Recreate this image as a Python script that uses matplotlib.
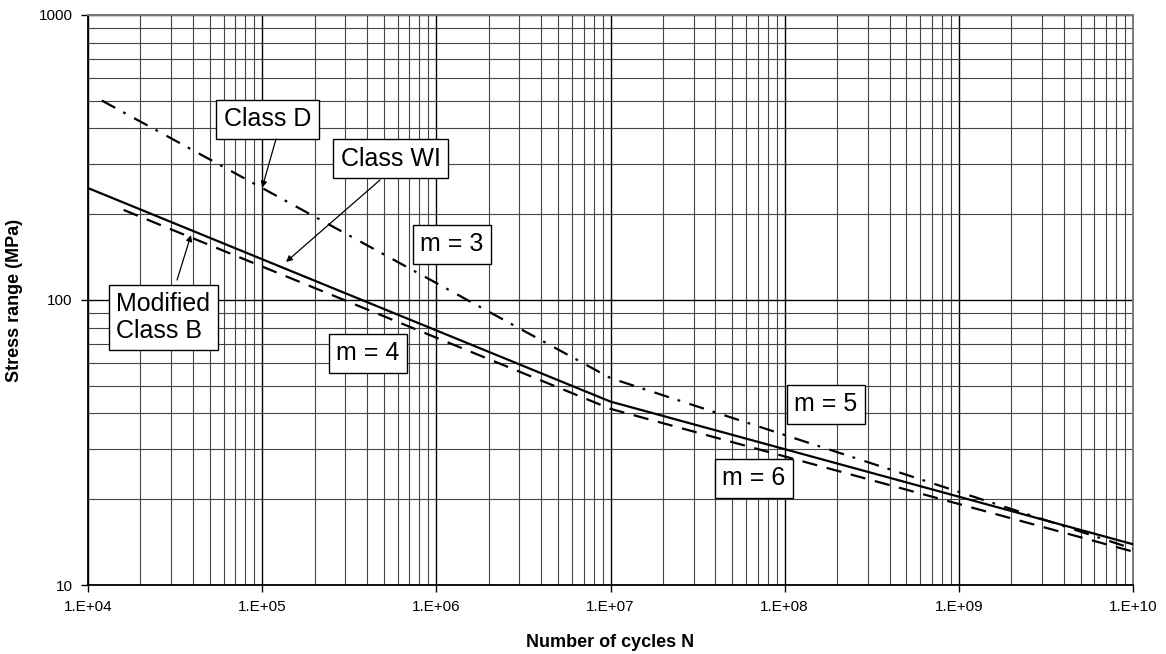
import math
import matplotlib
matplotlib.use("Agg")
import matplotlib.pyplot as plt
from matplotlib.ticker import LogLocator, FixedLocator, FuncFormatter, NullFormatter

plt.rcParams['font.family'] = ['Liberation Sans', 'DejaVu Sans']
plt.rcParams['lines.scale_dashes'] = False

# S-N curves: knee points (cycles, stress range in MPa)
class_d_n = [1.2e4, 1e7, 1e10]
class_d_s = [501, 53.2, 13.4]

class_wi_n = [1e4, 1e7, 1e10]
class_wi_s = [247, 44, 13.9]

mod_b_n = [1.6e4, 1e7, 1e10]
mod_b_s = [207, 41.5, 13.1]

x_major = [1e4, 1e5, 1e6, 1e7, 1e8, 1e9, 1e10]
y_major = [10, 100, 1000]

fig = plt.figure(figsize=(11.66, 6.54), dpi=100)
ax = fig.add_axes([0.0755, 0.1055, 0.8962, 0.8716])
ax.set_xscale('log')
ax.set_yscale('log')

ax.plot(class_d_n, class_d_s, color='black', lw=1.6, dashes=(11, 6.5, 2, 7),
        dash_capstyle='butt', zorder=3)
ax.plot(class_wi_n, class_wi_s, color='black', lw=1.6, zorder=3)
ax.plot(mod_b_n, mod_b_s, color='black', lw=1.6, dashes=(11, 7),
        dash_capstyle='butt', zorder=3)

ax.set_xlim(1e4, 1e10)
ax.set_ylim(10, 1000)

ax.xaxis.set_major_locator(FixedLocator(x_major))
ax.yaxis.set_major_locator(FixedLocator(y_major))
ax.xaxis.set_minor_locator(LogLocator(base=10, subs=range(2, 10), numticks=20))
ax.yaxis.set_minor_locator(LogLocator(base=10, subs=range(2, 10), numticks=20))
ax.xaxis.set_major_formatter(FuncFormatter(lambda v, p: '1.E+%02d' % round(math.log10(v))))
ax.yaxis.set_major_formatter(FuncFormatter(lambda v, p: '%d' % v))
ax.xaxis.set_minor_formatter(NullFormatter())
ax.yaxis.set_minor_formatter(NullFormatter())

ax.tick_params(which='major', direction='out', length=5, width=1, labelsize=11, color='black')
ax.tick_params(axis='x', which='major', pad=6)
ax.tick_params(axis='y', which='major', pad=6)
ax.tick_params(which='minor', length=0)

ax.grid(which='major', color='black', lw=1.0, zorder=1)
ax.grid(which='minor', color='#444444', lw=0.8, zorder=1)
ax.set_axisbelow(True)

for side in ['left', 'bottom']:
    ax.spines[side].set_color('black')
    ax.spines[side].set_linewidth(1.3)
for side in ['top', 'right']:
    ax.spines[side].set_color('#7a7a7a')
    ax.spines[side].set_linewidth(1.4)

ax.set_xlabel('Number of cycles N', fontsize=13, fontweight='bold', labelpad=14)
ax.set_ylabel('Stress range (MPa)', fontsize=13, fontweight='bold')
ax.yaxis.set_label_coords(-0.062, 0.5)

# boxed labels (centre in axes fraction)
box = dict(boxstyle='square,pad=0.3', facecolor='white', edgecolor='black', lw=1.0)
labels = [
    ('Class D', 0.1718, 0.8175),
    ('Class WI', 0.2895, 0.7474),
    ('m = 3', 0.3483, 0.5982),
    ('m = 4', 0.2679, 0.4070),
    ('m = 5', 0.7062, 0.3175),
    ('m = 6', 0.6373, 0.1877),
    ('Modified\nClass B', 0.0722, 0.4693),
]
for txt, bx, by in labels:
    ax.text(bx, by, txt, transform=ax.transAxes, fontsize=18, ha='center',
            va='center', multialignment='left', bbox=box, zorder=5,
            linespacing=1.15)

# leader arrows from the label boxes to the curves
arrows = [
    ((0.1799, 0.7825), (1.0e5, 248)),
    ((0.2794, 0.7105), (1.37e5, 136)),
    ((0.0852, 0.5351), (3.9e4, 169)),
]
for start, tip in arrows:
    ax.annotate('', xy=tip, xycoords='data', xytext=start, textcoords='axes fraction',
                arrowprops=dict(arrowstyle='-|>', color='black', lw=0.9,
                                mutation_scale=9, shrinkA=0, shrinkB=0),
                zorder=6)

fig.savefig('out.png', dpi=100)
